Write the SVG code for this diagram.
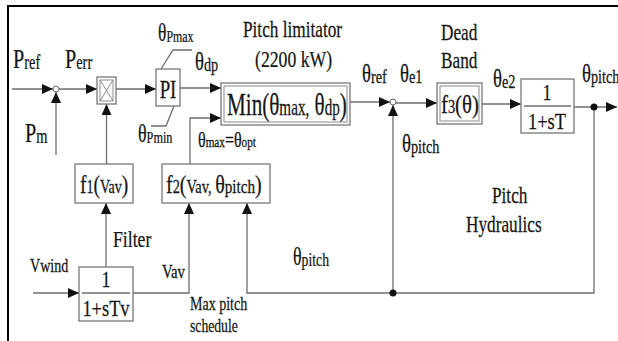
<svg xmlns="http://www.w3.org/2000/svg" width="618" height="341" viewBox="0 0 618 341">
<defs>
<marker id="ah" markerUnits="userSpaceOnUse" markerWidth="11" markerHeight="10" refX="11" refY="5" orient="auto">
<path d="M0,0 L11,5 L0,10 z" fill="#111"/>
</marker>
<style>
.t{font-family:"Liberation Serif","Times New Roman",serif;fill:#151515;stroke:#151515;stroke-width:0.25}
.ln{fill:none;stroke:#6e6e6e;stroke-width:1.3}
.bx{fill:#fff;stroke:#777;stroke-width:1.3}
.bi{fill:none;stroke:#8a8a8a;stroke-width:1}
.frame{fill:none;stroke:#000;stroke-width:2}
</style>
</defs>
<rect width="618" height="341" fill="#fff"/>
<path class="frame" d="M8,341 V6 H618"/>

<g id="connectors">
<path class="ln" d="M12,89 H53" marker-end="url(#ah)"/>
<path class="ln" d="M56,155 V92" marker-end="url(#ah)"/>
<path class="ln" d="M59,89 H97" marker-end="url(#ah)"/>
<path class="ln" d="M106.5,164 V104" marker-end="url(#ah)"/>
<path class="ln" d="M116,89 H156" marker-end="url(#ah)"/>
<path class="ln" d="M180,88 H221" marker-end="url(#ah)"/>
<path class="ln" d="M190,164 V118 H221" marker-end="url(#ah)"/>
<path class="ln" d="M350,102 H390" marker-end="url(#ah)"/>
<path class="ln" d="M393,293 V105" marker-end="url(#ah)"/>
<path class="ln" d="M396,103 H437" marker-end="url(#ah)"/>
<path class="ln" d="M482,104 H521" marker-end="url(#ah)"/>
<path class="ln" d="M574,107 H617" marker-end="url(#ah)"/>
<path class="ln" d="M594,107 V293 H247 V203" marker-end="url(#ah)"/>
<path class="ln" d="M33,293 H79" marker-end="url(#ah)"/>
<path class="ln" d="M133,293 H189 V203" marker-end="url(#ah)"/>
<path class="ln" d="M106,267 V203" marker-end="url(#ah)"/>
<path class="ln" d="M161,69 L173,50 H192"/>
<path class="ln" d="M174,106 L166,126 H151"/>
<circle cx="56" cy="89" r="3" fill="#fff" stroke="#666" stroke-width="1"/>
<circle cx="393" cy="102" r="3" fill="#fff" stroke="#666" stroke-width="1"/>
<circle cx="594" cy="107" r="3.5" fill="#111"/>
<circle cx="393" cy="293" r="3.5" fill="#111"/>
</g>

<g id="labels">
<text class="t" transform="translate(13,68) scale(.72,1)"><tspan font-size="28">P</tspan><tspan font-size="20" dy="1">ref</tspan></text>
<text class="t" transform="translate(65,68) scale(.72,1)"><tspan font-size="28">P</tspan><tspan font-size="20" dy="1">err</tspan></text>
<text class="t" transform="translate(25,142) scale(.72,1)"><tspan font-size="28">P</tspan><tspan font-size="20" dy="1">m</tspan></text>
<text class="t" transform="translate(158,41) scale(.7,1)"><tspan font-size="25">θ</tspan><tspan font-size="17" dy="1">Pmax</tspan></text>
<text class="t" transform="translate(138,142) scale(.72,1)"><tspan font-size="25">θ</tspan><tspan font-size="17" dy="1">Pmin</tspan></text>
<text class="t" transform="translate(195,70) scale(.75,1)"><tspan font-size="25">θ</tspan><tspan font-size="19" dy="1">dp</tspan></text>
<text class="t" font-size="23" transform="translate(243,37) scale(.75,1)">Pitch limitator</text>
<text class="t" font-size="23" transform="translate(255,67) scale(.77,1)">(2200 kW)</text>
<text class="t" transform="translate(198,147) scale(.8,1)"><tspan font-size="20">θ</tspan><tspan font-size="14">max</tspan><tspan font-size="20">=θ</tspan><tspan font-size="14">opt</tspan></text>
<text class="t" transform="translate(362,82) scale(.75,1)"><tspan font-size="25">θ</tspan><tspan font-size="19" dy="1">ref</tspan></text>
<text class="t" transform="translate(400,82) scale(.75,1)"><tspan font-size="25">θ</tspan><tspan font-size="19" dy="1">e1</tspan></text>
<text class="t" transform="translate(402,152) scale(.75,1)"><tspan font-size="25">θ</tspan><tspan font-size="19" dy="1">pitch</tspan></text>
<text class="t" font-size="23" transform="translate(441,40) scale(.75,1)">Dead</text>
<text class="t" font-size="23" transform="translate(441,68) scale(.75,1)">Band</text>
<text class="t" transform="translate(493,87) scale(.75,1)"><tspan font-size="25">θ</tspan><tspan font-size="19" dy="1">e2</tspan></text>
<text class="t" transform="translate(582,82) scale(.75,1)"><tspan font-size="25">θ</tspan><tspan font-size="19" dy="1">pitch</tspan></text>
<text class="t" font-size="23" transform="translate(113,247) scale(.77,1)">Filter</text>
<text class="t" font-size="18" transform="translate(30,272) scale(.78,1)">Vwind</text>
<text class="t" font-size="18" transform="translate(162,278) scale(.82,1)">Vav</text>
<text class="t" font-size="18" transform="translate(190,310) scale(.78,1)">Max pitch</text>
<text class="t" font-size="18" transform="translate(190,332) scale(.76,1)">schedule</text>
<text class="t" transform="translate(293,265) scale(.72,1)"><tspan font-size="25">θ</tspan><tspan font-size="19" dy="1">pitch</tspan></text>
<text class="t" font-size="23" transform="translate(492,203) scale(.75,1)">Pitch</text>
<text class="t" font-size="23" transform="translate(466,232) scale(.75,1)">Hydraulics</text>
</g>

<g id="multiplier">
<rect class="bx" x="97" y="77" width="19" height="27"/>
<rect class="bi" x="100" y="80" width="13" height="21"/>
<path class="bi" d="M100,80 L113,101 M113,80 L100,101"/>
</g>

<g id="pi">
<rect class="bx" x="156" y="69" width="24" height="37"/>
<text class="t" font-size="25" text-anchor="middle" transform="translate(168,98) scale(.75,1)">PI</text>
</g>

<g id="min-limiter">
<rect class="bx" x="221" y="83" width="129" height="42"/>
<rect class="bi" x="224" y="86" width="123" height="36"/>
<text class="t" transform="translate(227,115) scale(.66,1)"><tspan font-size="32">Min(θ</tspan><tspan font-size="23">max,</tspan><tspan font-size="32"> θ</tspan><tspan font-size="23">dp</tspan><tspan font-size="32">)</tspan></text>
</g>

<g id="deadband">
<rect class="bx" x="437" y="83" width="45" height="41"/>
<rect class="bi" x="440" y="86" width="39" height="35"/>
<text class="t" transform="translate(441,113) scale(.8,1)"><tspan font-size="26">f</tspan><tspan font-size="18">3</tspan><tspan font-size="26">(θ)</tspan></text>
</g>

<g id="hydraulics">
<rect class="bx" x="521" y="79" width="53" height="54"/>
<path class="ln" d="M524,106 H571"/>
<text class="t" font-size="23" text-anchor="middle" transform="translate(547,100) scale(.78,1)">1</text>
<text class="t" font-size="23" text-anchor="middle" transform="translate(547,129) scale(.8,1)">1+sT</text>
</g>

<g id="f1">
<rect class="bx" x="75" y="164" width="58" height="39"/>
<text class="t" transform="translate(80,193) scale(.78,1)"><tspan font-size="25">f</tspan><tspan font-size="18">1</tspan><tspan font-size="25">(</tspan><tspan font-size="18">Vav</tspan><tspan font-size="25">)</tspan></text>
</g>

<g id="f2">
<rect class="bx" x="162" y="164" width="108" height="39"/>
<text class="t" transform="translate(166,193) scale(.8,1)"><tspan font-size="25">f</tspan><tspan font-size="18">2</tspan><tspan font-size="25">(</tspan><tspan font-size="18">Vav, </tspan><tspan font-size="25">θ</tspan><tspan font-size="19">pitch</tspan><tspan font-size="25">)</tspan></text>
</g>

<g id="filter">
<rect class="bx" x="79" y="267" width="54" height="54"/>
<path class="ln" d="M82,293 H130"/>
<text class="t" font-size="23" text-anchor="middle" transform="translate(106,287) scale(.78,1)">1</text>
<text class="t" font-size="23" text-anchor="middle" transform="translate(106,316) scale(.8,1)">1+sTv</text>
</g>
</svg>
